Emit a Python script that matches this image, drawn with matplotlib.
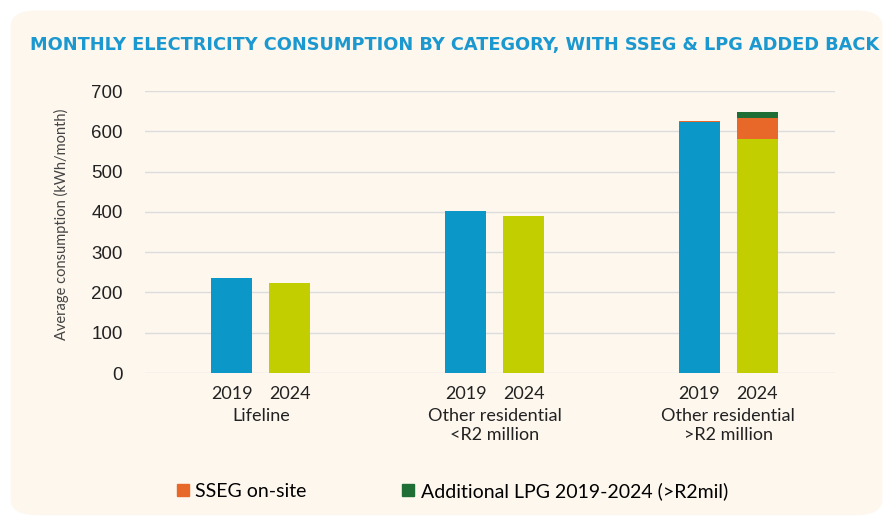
import matplotlib
matplotlib.use("Agg")
import matplotlib.pyplot as plt
from matplotlib.patches import FancyBboxPatch, Patch
import numpy as np

groups = ["Lifeline", "Other residential\n<R2 million", "Other residential\n>R2 million"]
years = ["2019", "2024"]
base_2019 = [236, 402, 623]
sseg_2019 = [0, 0, 2]
base_2024 = [223, 390, 580]
sseg_2024 = [0, 0, 54]
lpg_2024 = [0, 0, 14]

blue = "#0B98C8"
lime = "#C3CE00"
orange = "#E8682A"
green = "#1F6E35"
cream = "#FDF7EE"

plt.rcParams['font.family'] = ['Lato', 'DejaVu Sans']

fig = plt.figure(figsize=(8.85, 5.23), dpi=100)
fig.patch.set_facecolor("white")
bg = FancyBboxPatch((0.012, 0.015), 0.985, 0.965, boxstyle="round,pad=0,rounding_size=0.03",
                    transform=fig.transFigure, facecolor=cream, edgecolor="none", zorder=-5)
fig.patches.append(bg)

ax = fig.add_axes([145 / 885, 1 - 373 / 523, 690 / 885, 282 / 523])
ax.set_zorder(2)
ax.set_facecolor("none")

x = np.arange(len(groups))
w = 0.175
off = 0.124
ax.bar(x - off, base_2019, w, color=blue, zorder=3)
ax.bar(x - off, sseg_2019, w, bottom=base_2019, color=orange, zorder=3)
ax.bar(x + off, base_2024, w, color=lime, zorder=3)
ax.bar(x + off, sseg_2024, w, bottom=base_2024, color=orange, zorder=3)
ax.bar(x + off, lpg_2024, w, bottom=np.array(base_2024) + np.array(sseg_2024), color=green, zorder=3)

ax.set_xlim(-0.496, 2.457)
ax.set_ylim(0, 700)
ax.set_yticks(range(0, 701, 100))
ax.tick_params(axis="y", length=0, labelsize=13.5, pad=16, labelcolor="#222222")
for lab in ax.get_yticklabels():
    lab.set_family(['Liberation Sans', 'DejaVu Sans'])
ax.grid(axis="y", color="#DCDCDC", linewidth=1, zorder=0)
ax.set_xticks([])
for s in ax.spines.values():
    s.set_visible(False)
ax.set_ylabel("Average consumption (kWh/month)", fontsize=10.5, color="#444444")
ax.yaxis.set_label_coords(-0.11, 0.528)

trans = ax.get_xaxis_transform()
for i, g in enumerate(groups):
    ax.text(i - off, -0.045, years[0], transform=trans, ha="center", va="top", fontsize=13, color="#222222")
    ax.text(i + off, -0.045, years[1], transform=trans, ha="center", va="top", fontsize=13, color="#222222")
    ax.text(i, -0.125, g, transform=trans, ha="center", va="top", fontsize=13, color="#222222",
            linespacing=1.2)

fig.text(30 / 885, 1 - 45 / 523, "MONTHLY ELECTRICITY CONSUMPTION BY CATEGORY, WITH SSEG & LPG ADDED BACK",
         ha="left", va="center", fontsize=12.75, fontweight="bold", color="#1B98CF",
         family=['DejaVu Sans'])

handles = [Patch(color=orange, label="SSEG on-site"),
           Patch(color=green, label="Additional LPG 2019-2024 (>R2mil)")]
fig.legend(handles=handles, loc="center left", bbox_to_anchor=(177 / 885, 1 - 491 / 523), ncol=2,
           frameon=False, fontsize=14, handlelength=0.6, handleheight=0.6, handletextpad=0.35,
           columnspacing=4.9, borderaxespad=0, borderpad=0)

fig.savefig("out.png", dpi=100, facecolor="white")
